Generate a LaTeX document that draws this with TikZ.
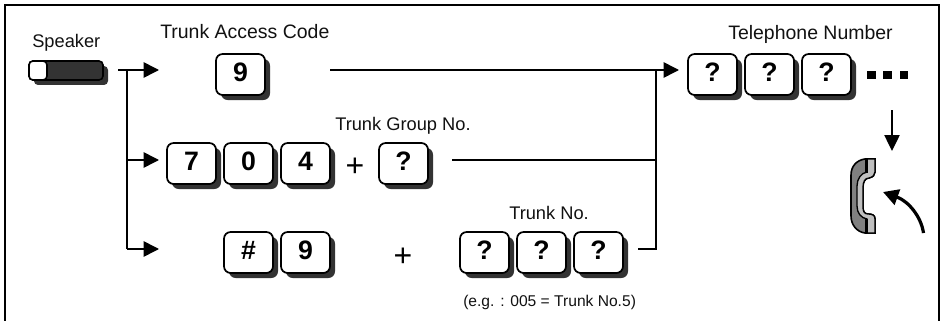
\documentclass[tikz,border=0pt]{standalone}
\usepackage{fontspec}
\setmainfont{Liberation Sans}
\usetikzlibrary{arrows.meta,shadows}
\definecolor{keyshadow}{HTML}{333333}
\definecolor{inkblack}{HTML}{111111}
\tikzset{
  x=0.75pt,y=-0.75pt,
  lbl/.style={inner sep=0pt,anchor=base west,text=inkblack,font=\fontsize{13.7pt}{15pt}\selectfont},
  lblwide/.style={inner sep=0pt,anchor=base west,text=inkblack,font=\fontsize{14.6pt}{16pt}\selectfont},
  small/.style={inner sep=0pt,anchor=base west,text=inkblack,font=\fontsize{11.7pt}{13pt}\selectfont},
  plus/.style={inner sep=0pt,font=\fontsize{24pt}{26pt}\selectfont},
  conn/.style={line width=1.2pt},
  tip/.style={-{Triangle[length=11.5pt,width=11.5pt]}},
  keycap/.style={draw,line width=1.3pt,fill=white,rounded corners=5pt,
    minimum width=36.75pt,minimum height=30.75pt,inner sep=0pt,
    text height=14pt,text depth=2.8pt,
    font=\fontsize{20pt}{22pt}\selectfont\bfseries,
    general shadow={fill=keyshadow,shadow xshift=3.75pt,shadow yshift=-3.75pt,opacity=1}}
}
\begin{document}
\begin{tikzpicture}
\useasboundingbox (0,0) rectangle (942,321);
% frame
\draw[line width=1.5pt] (5,321) -- (5,5) -- (938.5,5) -- (938.5,321);
% speaker
\node[lbl] (spk) at (32,48) {Speaker};
\fill[keyshadow,rounded corners=3pt] (34,66) rectangle (108,85);
\draw[line width=1.2pt,fill=keyshadow,rounded corners=3pt] (29,61) rectangle (103,80);
\draw[line width=1.2pt,fill=white,rounded corners=3pt] (29,61) rectangle (47,80);
% keys
\node[keycap] (k9) at (240.5,74.5) {9};
\node[keycap] (k7) at (191.5,163.5) {7};
\node[keycap] (k0) at (248.5,163.5) {0};
\node[keycap] (k4) at (305.5,163.5) {4};
\node[keycap] (kq) at (403.5,163.5) {?};
\node[keycap] (kh) at (248.5,252.5) {\#};
\node[keycap] (kn) at (305.5,252.5) {9};
\node[keycap] (ta) at (484.5,252.5) {?};
\node[keycap] (tb) at (541.5,252.5) {?};
\node[keycap] (tc) at (598.5,252.5) {?};
\node[keycap] (na) at (712.5,74.5) {?};
\node[keycap] (nb) at (769.5,74.5) {?};
\node[keycap] (nc) at (826.5,74.5) {?};
% labels
\node[lblwide] (tac) at (160,39) {Trunk Access Code};
\node[lblwide] (tel) at (728,40) {Telephone Number};
\node[lbl] (tgn) at (335,130) {Trunk Group No.};
\node[lbl] (tn) at (509,219) {Trunk No.};
\node[small] (eg) at (463,306) {(e.g. : 005 = Trunk No.5)};
\node[plus] (p1) at (355,167) {+};
\node[plus] (p2) at (403,257) {+};
% connector junctions
\coordinate (start) at (118,70);
\coordinate (j1) at (127,70);
\coordinate (j2) at (127,160);
\coordinate (j3) at (127,249);
\coordinate (a1) at (159,70);
\coordinate (a2) at (159,160);
\coordinate (a3) at (159,249);
\coordinate (m1) at (330,70);
\coordinate (m2) at (452,160);
\coordinate (m3) at (638,249);
\coordinate (t1) at (656,70);
\coordinate (t2) at (656,160);
\coordinate (t3) at (656,249);
\coordinate (t) at (679,70);
\draw[conn,tip] (start) -- (a1);
\draw[conn] (j1) -- (j3);
\draw[conn,tip] (j2) -- (a2);
\draw[conn,tip] (j3) -- (a3);
\draw[conn,tip] (m1) -- (t);
\draw[conn] (m2) -- (t2);
\draw[conn] (m3) -- (t3) -- (t1);
% dots
\fill (867,71) rectangle (876,79);
\fill (883,71) rectangle (892,79);
\fill (900,71) rectangle (908,79);
% down arrow
\coordinate (d1) at (892,110);
\coordinate (d2) at (892,151);
\draw[line width=1pt,-{Triangle[length=12pt,width=11.5pt]}] (d1) -- (d2);
% handset
\draw[line width=1.2pt,fill=black!50] (875,159) -- (865,159) .. controls (857,160) and (851,166) .. (851,175) -- (851,216) .. controls (851,225) and (857,232) .. (865,233) -- (875,233) -- (875,219) .. controls (875,215) and (872,214) .. (868,214) .. controls (864,214) and (863,211) .. (863,207) -- (863,187) .. controls (863,182) and (865,178) .. (869,178) .. controls (873,177) and (875,175) .. (875,172) -- cycle;
\draw[line width=1pt,fill=black!25] (875,159) -- (867,159) -- (867,172) .. controls (861,173) and (857,179) .. (857,186) -- (857,206) .. controls (857,213) and (861,218) .. (867,219) -- (867,233) -- (875,233) -- (875,219) .. controls (875,215) and (872,214) .. (868,214) .. controls (864,214) and (863,211) .. (863,207) -- (863,187) .. controls (863,182) and (865,178) .. (869,178) .. controls (873,177) and (875,175) .. (875,172) -- cycle;
\fill[black] (865,159) rectangle (868,173);
\fill[black] (865,219) rectangle (868,233);
% curved arrow
\coordinate (c1) at (923.5,233);
\coordinate (c2) at (883,192);
\draw[line width=2.4pt,-{Triangle[length=11.5pt,width=12pt]}] (c1) .. controls (921,216) and (908,201) .. (c2);
\end{tikzpicture}
\end{document}
